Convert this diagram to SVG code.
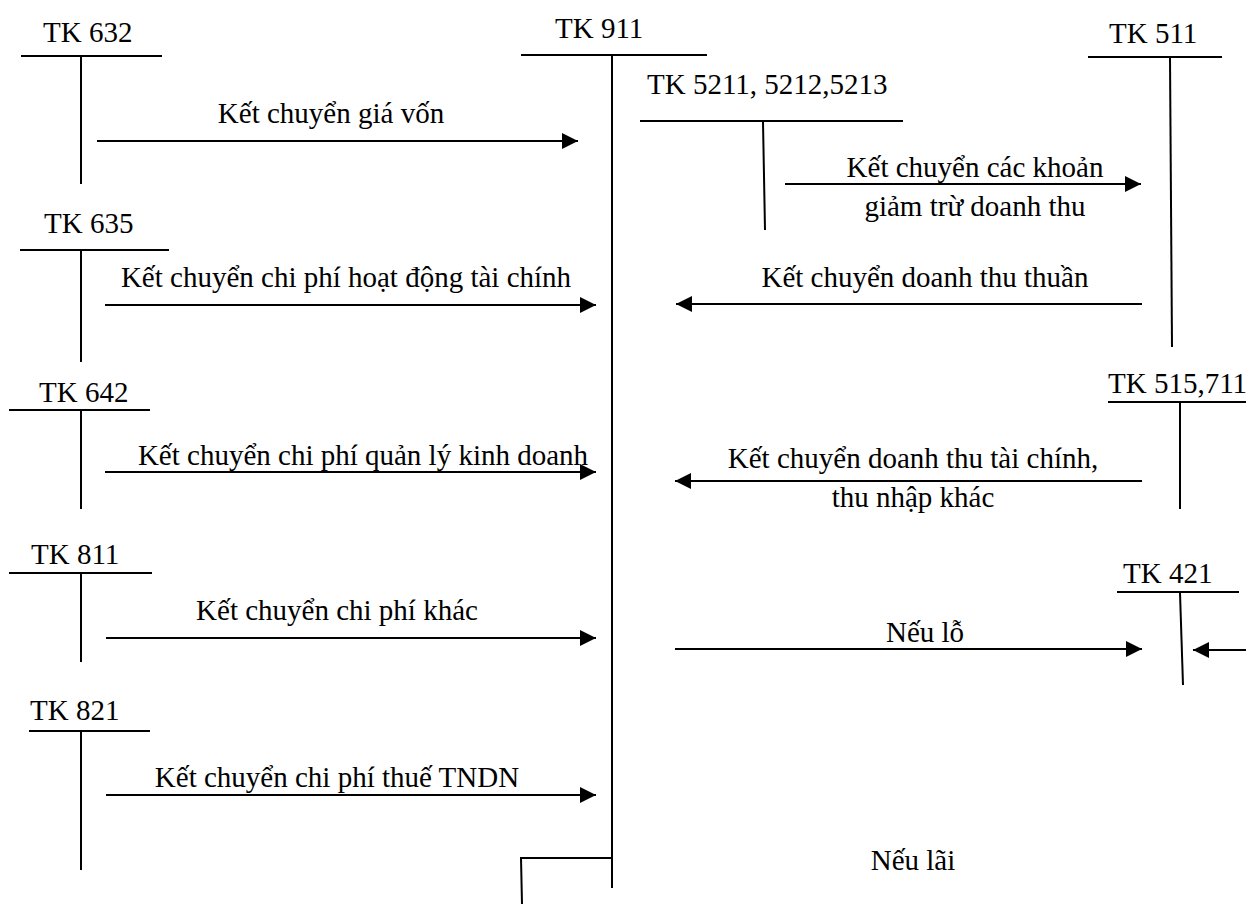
<svg xmlns="http://www.w3.org/2000/svg" width="1246" height="904" viewBox="0 0 1246 904" font-family="'Liberation Serif', 'Times New Roman', Times, serif">
<style>
text{font-family:'Liberation Serif','Times New Roman',Times,serif;font-size:29px;fill:#000}
.m{text-anchor:middle}
line,path{stroke:#000;stroke-width:2;fill:none}
.c{marker-end:url(#ah)}
</style>
<defs>
<marker id="ah" markerUnits="userSpaceOnUse" markerWidth="16" markerHeight="16" viewBox="0 0 16 16" refX="16" refY="8" orient="auto">
<path d="M0,0 L16,8 L0,16 z" style="fill:#000;stroke:none"/>
</marker>
</defs>
<rect width="1246" height="904" fill="#fff"/>
<g id="tk632"><text x="43" y="42">TK 632</text><line x1="21" y1="56" x2="162" y2="56"/><line x1="81" y1="57" x2="81" y2="184"/></g>
<g id="tk911"><text x="555" y="38">TK 911</text><line x1="521" y1="55" x2="707" y2="55"/><line x1="612" y1="56" x2="612" y2="888"/></g>
<g id="tk5211"><text x="647" y="94">TK 5211, 5212,5213</text><line x1="640" y1="121" x2="903" y2="121"/><line x1="763" y1="122" x2="765" y2="230"/></g>
<g id="tk511"><text x="1109" y="43">TK 511</text><line x1="1088" y1="57" x2="1222" y2="57"/><line x1="1170" y1="58" x2="1172" y2="347"/></g>
<g id="tk635"><text x="44" y="233">TK 635</text><line x1="20" y1="250" x2="169" y2="250"/><line x1="81" y1="251" x2="81" y2="362"/></g>
<g id="tk642"><text x="39" y="402">TK 642</text><line x1="9" y1="410" x2="150" y2="410"/><line x1="81" y1="411" x2="81" y2="509"/></g>
<g id="tk515"><text x="1108" y="393">TK 515,711</text><line x1="1108" y1="402" x2="1246" y2="402"/><line x1="1180" y1="403" x2="1180" y2="509"/></g>
<g id="tk811"><text x="31" y="564">TK 811</text><line x1="9" y1="573" x2="152" y2="573"/><line x1="81" y1="574" x2="81" y2="662"/></g>
<g id="tk421"><text x="1123" y="583">TK 421</text><line x1="1117" y1="592" x2="1239" y2="592"/><line x1="1180" y1="593" x2="1183" y2="685"/></g>
<g id="tk821"><text x="30" y="720">TK 821</text><line x1="29" y1="731" x2="150" y2="731"/><line x1="81" y1="732" x2="81" y2="870"/></g>
<g id="connectors">
<line class="c" x1="97" y1="141" x2="578" y2="141"/>
<text class="m" x="331" y="123">Kết chuyển giá vốn</text>
<line class="c" x1="785" y1="184" x2="1141" y2="184"/>
<text class="m" x="975" y="177">Kết chuyển các khoản</text>
<text class="m" x="975" y="216">giảm trừ doanh thu</text>
<line class="c" x1="1142" y1="304" x2="676" y2="304"/>
<text class="m" x="925" y="287">Kết chuyển doanh thu thuần</text>
<line class="c" x1="105" y1="305" x2="596" y2="305"/>
<text class="m" x="346" y="287">Kết chuyển chi phí hoạt động tài chính</text>
<line class="c" x1="105" y1="472" x2="596" y2="472"/>
<text class="m" x="363" y="465">Kết chuyển chi phí quản lý kinh doanh</text>
<line class="c" x1="1142" y1="481" x2="675" y2="481"/>
<text class="m" x="913" y="468">Kết chuyển doanh thu tài chính,</text>
<text class="m" x="913" y="507">thu nhập khác</text>
<line class="c" x1="106" y1="638" x2="596" y2="638"/>
<text class="m" x="337" y="620">Kết chuyển chi phí khác</text>
<line class="c" x1="675" y1="649" x2="1142" y2="649"/>
<text class="m" x="925" y="642">Nếu lỗ</text>
<line class="c" x1="1246" y1="650" x2="1193" y2="650"/>
<line class="c" x1="106" y1="795" x2="596" y2="795"/>
<text class="m" x="337" y="787">Kết chuyển chi phí thuế TNDN</text>
<path d="M612,858 L521,858 L522,904"/>
<text class="m" x="913" y="870">Nếu lãi</text>
</g>
</svg>
